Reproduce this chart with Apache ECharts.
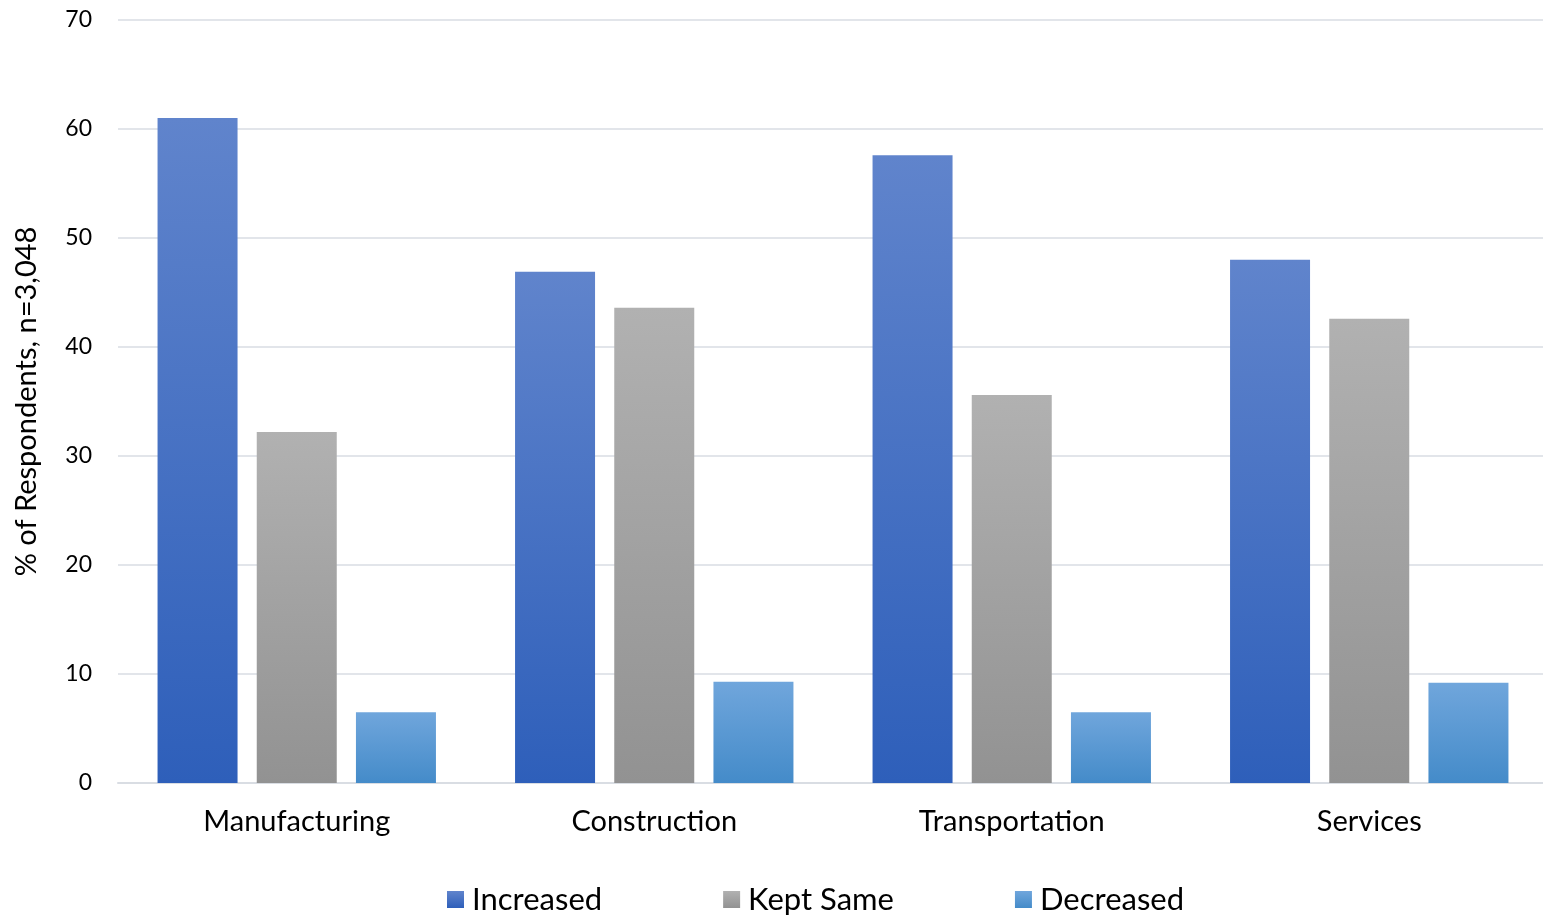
<!DOCTYPE html>
<html>
<head>
<meta charset="utf-8">
<script src="https://cdn.jsdelivr.net/npm/echarts@6/dist/echarts.min.js"></script>
<style>
  html, body { margin: 0; padding: 0; background: #fff; }
  #chart { width: 1543px; height: 916px; }
</style>
</head>
<body>
<div id="chart"></div>
<script>
// data
const categories = ['Manufacturing', 'Construction', 'Transportation', 'Services'];
const increased = [61.0, 46.9, 57.6, 48.0];
const keptSame = [32.2, 43.6, 35.6, 42.6];
const decreased = [6.5, 9.3, 6.5, 9.2];

const FONT = 'Lato, "Noto Sans", sans-serif';

function grad(top, bottom) {
  return new echarts.graphic.LinearGradient(0, 0, 0, 1, [
    { offset: 0, color: top },
    { offset: 1, color: bottom },
  ]);
}

const chart = echarts.init(document.getElementById('chart'));

const option = {
  animation: false,
  textStyle: { fontFamily: FONT },
  grid: {
    left: 118,
    right: -5,
    top: 20,
    bottom: 133,
    outerBoundsMode: 'none',
  },
  legend: {
    bottom: -4,
    left: 442,
    itemWidth: 17,
    itemHeight: 17,
    itemGap: 121,
    icon: 'rect',
    textStyle: { fontSize: 31, color: '#000', fontFamily: FONT, padding: [0, 0, 0, 3] },
    data: ['Increased', 'Kept Same', 'Decreased'],
  },
  xAxis: {
    type: 'category',
    data: categories,
    axisTick: { show: false },
    axisLine: { lineStyle: { color: '#D9DDE3', width: 2 } },
    axisLabel: { fontSize: 29, color: '#000', margin: 24, fontFamily: FONT },
  },
  yAxis: {
    type: 'value',
    min: 0,
    max: 70,
    interval: 10,
    name: '% of Respondents, n=3,048',
    nameLocation: 'middle',
    nameGap: 77,
    nameTextStyle: { fontSize: 29, color: '#000', fontFamily: FONT },
    axisLabel: { fontSize: 23, color: '#000', margin: 26, fontFamily: FONT },
    splitLine: { lineStyle: { color: '#E2E5EA', width: 2 } },
  },
  series: [
    {
      name: 'Increased',
      type: 'bar',
      data: increased,
      barWidth: 80,
      barGap: '24%',
      itemStyle: { color: grad('#6084CC', '#2E5FBA') },
    },
    {
      name: 'Kept Same',
      type: 'bar',
      data: keptSame,
      barWidth: 80,
      itemStyle: { color: grad('#B1B1B1', '#929292') },
    },
    {
      name: 'Decreased',
      type: 'bar',
      data: decreased,
      barWidth: 80,
      itemStyle: { color: grad('#70A6DC', '#448BC9') },
    },
  ],
};

chart.setOption(option);
</script>
</body>
</html>
